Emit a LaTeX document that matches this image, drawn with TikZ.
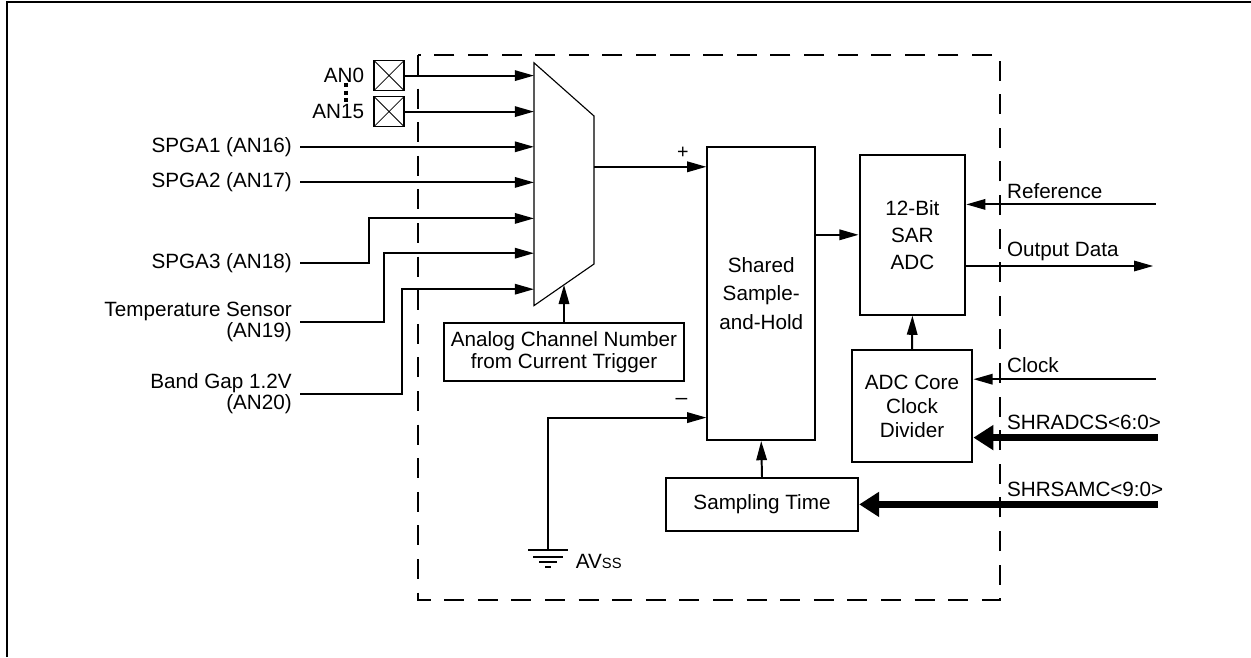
\documentclass[tikz,border=0pt]{standalone}
\usepackage{fontspec}
\setmainfont{Liberation Sans}
\usetikzlibrary{arrows.meta,positioning}

\begin{document}
\begin{tikzpicture}[
		font=\fontsize{14.7}{15.5}\selectfont,
		wire/.style={line width=1.4pt},
		bus/.style={line width=4.7pt},
		arr/.style={-{Triangle[length=0.48cm,width=0.26cm]}},
		busarr/.style={-{Triangle[length=0.5cm,width=0.6cm]}},
		blk/.style={draw,line width=1.4pt,inner sep=0pt,align=center},
		lbl/.style={inner xsep=0.2cm,inner ysep=1pt,align=right,anchor=east},
		tag/.style={inner sep=0pt,anchor=west},
		pin/.style={draw,line width=1.2pt,minimum size=0.75cm,inner sep=0pt,
			path picture={\draw[line width=0.6pt] (path picture bounding box.south west) -- (path picture bounding box.north east)
				(path picture bounding box.north west) -- (path picture bounding box.south east);}}
	]
	\useasboundingbox (0,0) rectangle (31.275,-16.425);
	\draw[line width=1.6pt] (0.17,-16.425) -- (0.17,-0.05) -- (31.275,-0.05);
	\draw[line width=1.4pt,dash pattern=on 0.5cm off 0.34cm] (10.45,-1.375) rectangle (25,-15);
	
	\draw[line width=0.8pt] (13.35,-1.57) coordinate (mtl) -- (14.85,-2.9) coordinate (mtr)
		-- (14.85,-6.6) coordinate (mbr) -- (13.35,-7.64) coordinate (mbl) -- cycle;
	\coordinate (mout) at (14.85,-4.17);
	\coordinate (msel) at (14.1,-7.12);
	\foreach \i/\y in {1/-1.89,2/-2.79,3/-3.67,4/-4.56,5/-5.46,6/-6.33,7/-7.23}
		\coordinate (in\i) at (13.35,\y);
	
	\node[pin] (an0) at (9.725,-1.89) {};
	\node[pin] (an15) at (9.725,-2.79) {};
	\node[inner sep=0pt,left=0.22cm of an0] (an0txt) {AN0};
	\node[inner sep=0pt,left=0.22cm of an15] (an15txt) {AN15};
	\draw[line width=3pt,dash pattern=on 3pt off 2.2pt] (8.65,-2.08) -- (8.65,-2.58);
	\draw[wire,arr] (an0.east) -- (in1);
	\draw[wire,arr] (an15.east) -- (in2);
	
	\node[lbl] (spga1) at (7.5,-3.67) {SPGA1 (AN16)};
	\node[lbl] (spga2) at (7.5,-4.56) {SPGA2 (AN17)};
	\node[lbl] (spga3) at (7.5,-6.57) {SPGA3 (AN18)};
	\node[lbl] (temp) at (7.5,-8.05) {Temperature Sensor\\(AN19)};
	\node[lbl] (bgap) at (7.5,-9.84) {Band Gap 1.2V\\(AN20)};
	\draw[wire,arr] (spga1.east) -- (in3);
	\draw[wire,arr] (spga2.east) -- (in4);
	\draw[wire,arr] (spga3.east) -- ++(1.72,0) |- (in5);
	\draw[wire,arr] (temp.east) -- ++(2.1,0) |- (in6);
	\draw[wire,arr] (bgap.east) -- ++(2.54,0) |- (in7);
	
	\node[blk,minimum width=6cm,minimum height=1.47cm] (chsel) at (14.1,-8.8) {Analog Channel Number\\from Current Trigger};
	\draw[wire,arr] (chsel.north) -- (msel);
	
	\node[blk,minimum width=2.69cm,minimum height=7.32cm,font=\fontsize{14.7}{20.6}\selectfont] (sh) at (19.03,-7.34) {Shared\\Sample-\\and-Hold};
	\node[blk,minimum width=2.64cm,minimum height=3.99cm,font=\fontsize{14.7}{19.2}\selectfont] (sar) at (22.81,-5.87) {12-Bit\\SAR\\ADC};
	\node[blk,minimum width=3.02cm,minimum height=2.8cm,font=\fontsize{14.7}{17}\selectfont] (div) at (22.8,-10.15) {ADC Core\\Clock\\Divider};
	\node[blk,minimum width=4.81cm,minimum height=1.31cm] (samp) at (19.05,-12.61) {Sampling Time};
	
	\draw[wire,arr] (mout) -- (mout -| sh.west);
	\node[font=\fontsize{14}{14}\selectfont] (plus) at (17.07,-3.83) {+};
	\draw[wire,arr] (sh.east |- sar.west) -- (sar.west);
	\draw[wire,arr] (div.north) -- (sar.south);
	\draw[wire,arr] (samp.north) -- (sh.south);
	
	\coordinate (gnd) at (13.7,-13.75);
	\draw[wire,arr] (gnd) |- (sh.west |- 0,-10.44);
	\node[font=\fontsize{15}{15}\selectfont] (minus) at (17.04,-10.03) {--};
	\foreach \w/\y in {0.5/-13.75,0.375/-13.92,0.225/-14.05,0.075/-14.18}
		\draw[wire] (13.7-\w,\y) -- (13.7+\w,\y);
	\node[tag] (avss) at (14.39,-14.04) {AV{\fontsize{10.5}{10.5}\selectfont SS}};
	
	\coordinate (refin) at (28.89,-5.11);
	\coordinate (dout) at (28.83,-6.65);
	\coordinate (clkin) at (28.89,-9.48);
	\coordinate (adcs) at (28.94,-10.94);
	\coordinate (samc) at (28.94,-12.61);
	\draw[wire,arr] (refin) -- (refin -| sar.east);
	\draw[wire,arr] (sar.east |- dout) -- (dout);
	\draw[wire,arr] (clkin) -- (clkin -| div.east);
	\draw[bus,busarr] (adcs) -- (adcs -| div.east);
	\draw[bus,busarr] (samc) -- (samp.east);
	\node[tag] (reftxt) at (25.17,-4.79) {Reference};
	\node[tag] (douttxt) at (25.17,-6.29) {Output Data};
	\node[tag] (clktxt) at (25.17,-9.14) {Clock};
	\node[tag] (adcstxt) at (25.17,-10.57) {SHRADCS<6:0>};
	\node[tag] (samctxt) at (25.17,-12.23) {SHRSAMC<9:0>};
\end{tikzpicture}
\end{document}
